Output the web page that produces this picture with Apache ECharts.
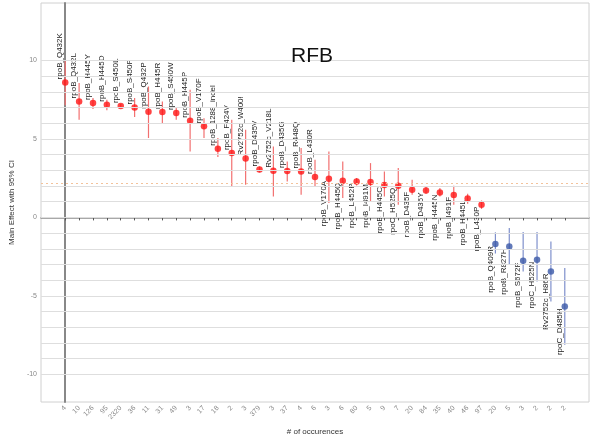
<!DOCTYPE html>
<html>
<head>
<meta charset="utf-8">
<script src="https://cdn.jsdelivr.net/npm/echarts@6/dist/echarts.min.js"></script>
<style>
  html, body { margin: 0; padding: 0; background: #ffffff; }
  #chart { width: 590px; height: 441px; }
</style>
</head>
<body>
<div id="chart"></div>
<script>
// Mutations ordered by main effect, with their occurrence counts
const mutations = [
  'rpoB_Q432K', 'rpoB_Q432L', 'rpoB_H445Y', 'rpoB_H445D', 'rpoB_S450L', 'rpoB_S450F',
  'rpoB_Q432P', 'rpoB_H445R', 'rpoB_S450W', 'rpoB_H445P', 'rpoB_V170F', 'rpoB_1288_indel',
  'rpoB_F424V', 'Rv2752c_W400!', 'rpoB_D435V', 'Rv2752c_V218L', 'rpoB_D435G', 'rpoB_R448Q',
  'rpoB_L430R', 'rpoB_V170A', 'rpoB_H445Q', 'rpoB_L452P', 'rpoB_I491M', 'rpoB_H445C',
  'rpoC_H525Q', 'rpoB_D435F', 'rpoB_D435Y', 'rpoB_H445N', 'rpoB_I491F', 'rpoB_H445L',
  'rpoB_L430P', 'rpoB_Q409R', 'rpoB_R827H', 'rpoB_S672F', 'rpoC_H525N', 'Rv2752c_H86R',
  'rpoC_D485H'
];
const occurrences = [
  '4', '10', '126', '95', '2320', '36', '11', '31', '49', '3', '17', '18', '2',
  '3', '379', '3', '37', '4', '6', '3', '6', '80', '5', '9', '7', '20', '84',
  '35', '40', '46', '97', '20', '5', '3', '2', '2', '2'
];
// Main effect and 95% CI bounds
const effects = [
  8.60, 7.39, 7.29, 7.18, 7.09, 7.00, 6.73, 6.71, 6.65, 6.16, 5.80, 4.38, 4.10,
  3.76, 3.06, 2.97, 2.96, 2.93, 2.57, 2.46, 2.34, 2.29, 2.25, 2.06, 2.02, 1.76,
  1.72, 1.59, 1.43, 1.21, 0.81, -1.70, -1.85, -2.76, -2.69, -3.44, -5.67
];
const ciLow = [
  7.15, 6.22, 6.90, 6.82, 6.97, 6.39, 5.06, 5.95, 6.22, 4.20, 5.06, 3.85, 1.97,
  2.08, 2.87, 1.34, 2.29, 1.45, 1.97, 0.92, 1.24, 2.04, 1.02, 1.34, 0.81, 1.45,
  1.51, 1.34, 0.81, 0.87, 0.54, -2.30, -3.01, -3.44, -4.08, -5.35, -8.11
];
const ciHigh = [
  10.00, 8.56, 7.60, 7.50, 7.22, 7.60, 8.34, 7.39, 7.03, 8.13, 6.31, 5.06, 6.22,
  5.59, 3.25, 4.52, 3.57, 4.42, 3.68, 4.20, 3.57, 2.51, 3.46, 2.93, 3.15, 2.40,
  1.94, 1.87, 2.02, 1.51, 1.08, -0.95, -0.68, -0.93, -0.93, -1.53, -3.22
];
const referenceEffect = 2.19;
const yTickValues = [-10, -5, 0, 5, 10];
const gridValues = [-10, -9, -8, -7, -6, -5, -4, -3, -2, -1, 0, 1, 2, 3, 4, 5, 6, 7, 8, 9, 10];

const RED = '#ff1414';
const RED_BAR = '#f27070';
const BLUE = '#3a58a8';
const BLUE_BAR = '#7f90cc';
const FONT = '"Liberation Sans", Arial, sans-serif';

const indices = mutations.map((_, i) => i);

const chart = echarts.init(document.getElementById('chart'), null, { renderer: 'canvas' });

chart.setOption({
  animation: false,
  backgroundColor: '#ffffff',
  textStyle: { fontFamily: FONT },
  title: {
    text: 'RFB',
    left: 286,
    top: 41,
    textStyle: { fontSize: 21, fontWeight: 'normal', color: '#111', fontFamily: FONT }
  },
  grid: {
    left: 39, right: 1, top: 3, bottom: 39,
    show: true, borderColor: '#d0d0d0', borderWidth: 1, backgroundColor: 'transparent'
  },
  xAxis: {
    type: 'value',
    min: -1.745,
    max: 37.745,
    name: '# of occurences',
    nameLocation: 'middle',
    nameGap: 24,
    nameTextStyle: { fontSize: 8, color: '#333', fontFamily: FONT },
    axisLine: { show: true, lineStyle: { color: '#8c8c8c', width: 1.5 } },
    axisTick: { show: true, customValues: indices, length: 3, lineStyle: { color: '#555' } },
    axisLabel: {
      customValues: indices,
      formatter: v => occurrences[Math.round(v)],
      rotate: 45,
      fontSize: 7,
      color: '#888',
      margin: 5
    },
    splitLine: { show: false }
  },
  yAxis: {
    type: 'value',
    min: -11.76,
    max: 13.66,
    name: 'Main Effect with 95% CI',
    nameLocation: 'middle',
    nameGap: 20,
    nameTextStyle: { fontSize: 8, color: '#333', fontFamily: FONT },
    axisLine: { show: true, lineStyle: { color: '#888888', width: 2 } },
    axisTick: { show: true, customValues: yTickValues, length: 3, lineStyle: { color: '#888' } },
    axisLabel: { customValues: yTickValues, fontSize: 7, color: '#888', margin: 4 },
    splitLine: { show: false }
  },
  series: [
    {
      // 95% confidence intervals
      type: 'custom',
      z: 2,
      data: effects.map((v, i) => [i, ciLow[i], ciHigh[i], v]),
      encode: { x: 0, y: [1, 2] },
      renderItem: (params, api) => {
        const i = api.value(0);
        const lo = api.coord([i, api.value(1)]);
        const hi = api.coord([i, api.value(2)]);
        return {
          type: 'line',
          shape: { x1: lo[0], y1: lo[1], x2: hi[0], y2: hi[1] },
          style: { stroke: api.value(3) > 0 ? RED_BAR : BLUE_BAR, lineWidth: 1.2 }
        };
      },
      markLine: {
        silent: true,
        symbol: 'none',
        label: { show: false },
        animation: false,
        lineStyle: { color: '#dedede', width: 1, type: 'solid' },
        data: gridValues.map(v => ({ yAxis: v }))
      }
    },
    {
      // Main effect estimates
      type: 'scatter',
      z: 3,
      symbol: 'circle',
      symbolSize: 6.5,
      data: effects.map((v, i) => ({
        value: [i, v],
        itemStyle: { color: v > 0 ? RED : BLUE }
      })),
      markLine: {
        silent: true,
        symbol: 'none',
        label: { show: false },
        animation: false,
        lineStyle: { color: '#f3c29a', width: 1, type: [2, 3] },
        data: [{ yAxis: referenceEffect }]
      }
    },
    {
      // Mutation names, written vertically beside each estimate
      type: 'custom',
      z: 4,
      data: effects.map((v, i) => [i, v]),
      renderItem: (params, api) => {
        const i = api.value(0);
        const v = api.value(1);
        const p = api.coord([i, v]);
        const above = v > 2.5;
        return {
          type: 'text',
          x: p[0] - 5,
          y: above ? p[1] - 3 : p[1] + 2,
          rotation: Math.PI / 2,
          style: {
            text: mutations[i],
            fontSize: 8,
            fontFamily: FONT,
            fill: '#222222',
            align: above ? 'left' : 'right',
            verticalAlign: 'middle'
          }
        };
      }
    }
  ]
});
</script>
</body>
</html>
